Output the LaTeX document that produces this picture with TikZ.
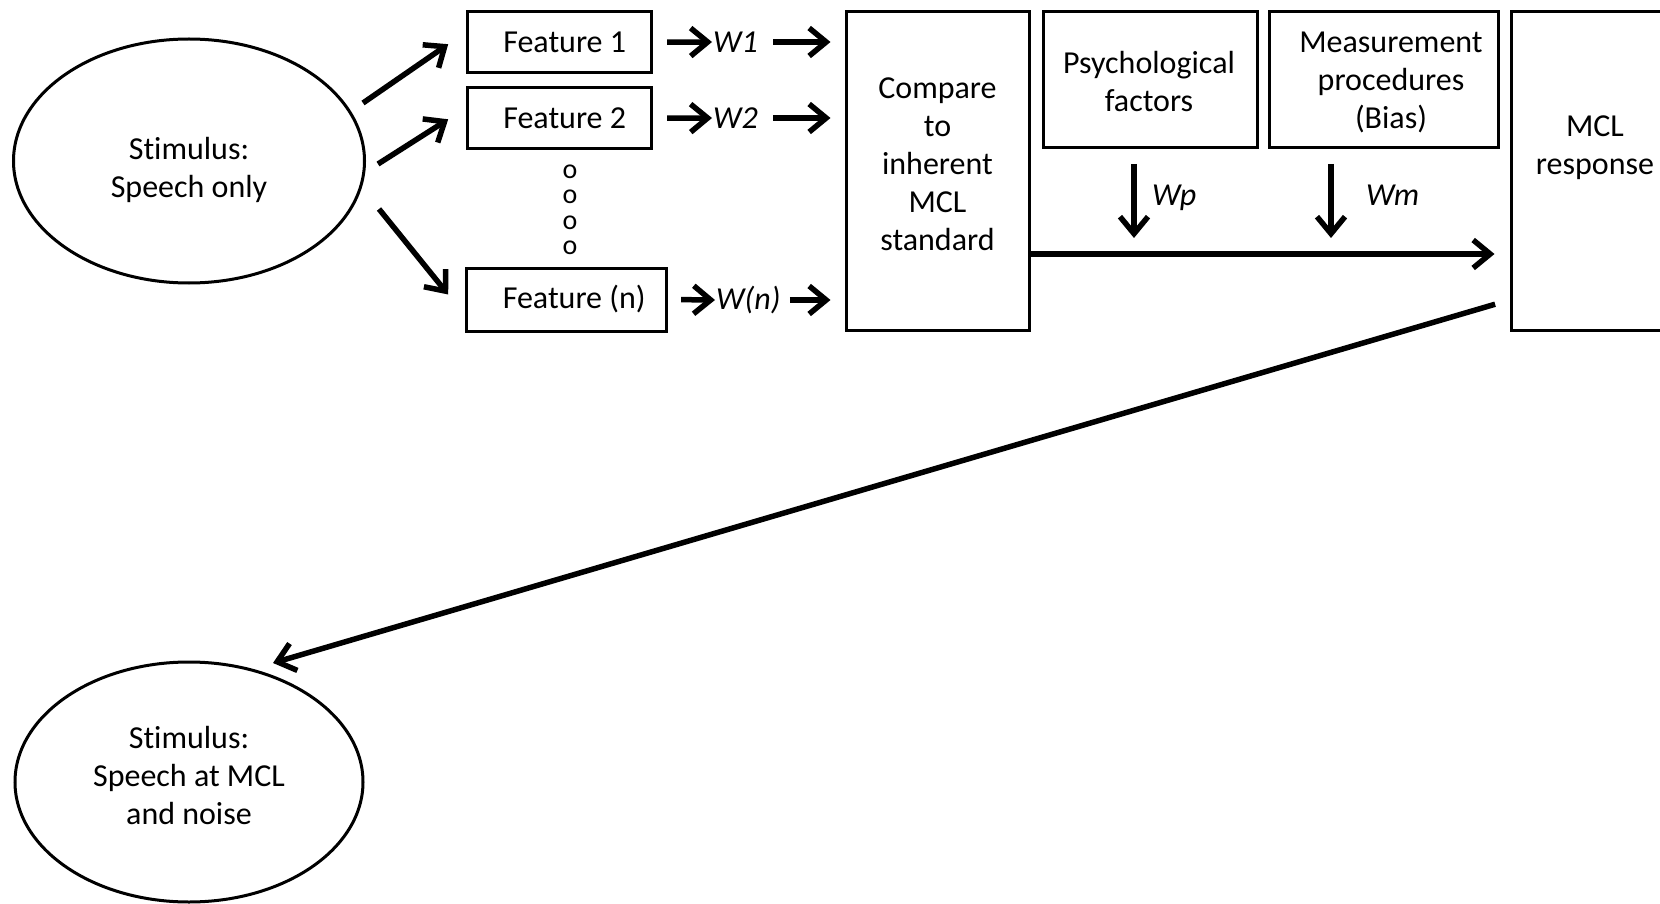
\documentclass[tikz,border=0pt]{standalone}
\usepackage{fontspec}
\setmainfont{Carlito}[Ligatures=CommonOff]
\usetikzlibrary{shapes.geometric,arrows.meta,calc}
\begin{document}
\begin{tikzpicture}[x=1pt,y=-1pt,
  every node/.style={font=\fontsize{32}{38}\selectfont, align=center},
  box/.style={draw, line width=3pt, inner sep=0pt},
  oval/.style={draw, ellipse, line width=3pt, inner sep=0pt},
  txt/.style={inner sep=0pt},
  arr/.style={line width=5.5pt, -{Straight Barb[length=17pt,width=28pt]}},
  wlab/.style={inner sep=1pt, anchor=west, font=\fontsize{32}{38}\selectfont\itshape}
]
\useasboundingbox (0,0) rectangle (1660,904);

% stimuli
\node[oval, minimum width=351pt, minimum height=244pt] (stim1) at (189,161) {};
\node[txt] (stim1txt) at (189,170) {Stimulus:\\Speech only};
\node[oval, minimum width=348pt, minimum height=240pt] (stim2) at (189,782) {};
\node[txt] (stim2txt) at (189,776) {Stimulus:\\Speech at MCL\\and noise};

% features
\node[box, minimum width=184pt, minimum height=61pt] (f1) at (559.7,42.2) {\hspace*{10pt}Feature 1};
\node[box, minimum width=184pt, minimum height=61pt] (f2) at (559.7,118.3) {\hspace*{10pt}Feature 2};
\node[box, minimum width=200pt, minimum height=63pt] (fn) at (566.7,299.5) {\hspace*{15pt}Feature (n)};
\node[txt, font=\fontsize{28}{25.5}\selectfont] (dots) at (570,210) {o\\o\\o\\o};

% weights
\node[wlab] (w1) at (712,42) {W1};
\node[wlab] (w2) at (712,118) {W2};
\node[wlab] (wn) at (715,300) {W(n)};

% processing stages
\node[box, minimum width=183pt, minimum height=318pt] (comp) at (937.5,171) {};
\node[txt] (comptxt) at (937.5,164) {Compare\\to\\inherent\\MCL\\standard};
\node[box, minimum width=214pt, minimum height=136pt] (psy) at (1150,80) {};
\node[txt] (psytxt) at (1149,82) {Psychological\\factors};
\node[box, minimum width=229pt, minimum height=136pt] (meas) at (1383.5,80) {};
\node[txt] (meastxt) at (1391,82) {Measurement\\procedures\\(Bias)};
\node[box, minimum width=165pt, minimum height=318pt] (resp) at (1593.5,171) {};
\node[txt] (resptxt) at (1595,148) {MCL\\response};

\node[wlab, anchor=base west] (wp) at (1151,206) {Wp};
\node[wlab, anchor=base west] (wm) at (1365,206) {Wm};

% helper coordinates
\coordinate (e1) at (363,103);
\coordinate (e2) at (378,164);
\coordinate (e3) at (379,209);
\coordinate (hy) at (0,254);
\coordinate (dy) at (0,300);
\coordinate (dtip) at (273,663);
\coordinate (wp0) at (1134,164);
\coordinate (wp1) at (1134,238);
\coordinate (wm0) at (1331,164);
\coordinate (wm1) at (1331,238);

% stimulus to features
\draw[arr] (e1) -- ($(f1.west)+(-18,2)$);
\draw[arr] (e2) -- ($(f2.west)+(-18,1)$);
\draw[arr] (e3) -- ($(fn.west)+(-17,-5)$);

% features to weights to comparison
\draw[arr, shorten <=14pt] (f1.east) -- (w1.west);
\draw[arr, shorten <=14pt, shorten >=14pt] (w1.east) -- (comp.west |- w1.east);
\draw[arr, shorten <=14pt] (f2.east) -- (w2.west);
\draw[arr, shorten <=14pt, shorten >=14pt] (w2.east) -- (comp.west |- w2.east);
\draw[arr, shorten <=13pt] (fn.east) -- (wn.west);
\draw[arr, shorten <=8pt, shorten >=14pt] (wn.east) -- (comp.west |- wn.east);

% influences and response
\draw[arr] (wp0) -- (wp1);
\draw[arr] (wm0) -- (wm1);
\draw[arr, shorten >=15pt] (comp.east |- hy) -- (resp.west |- hy);
\draw[arr, shorten <=15pt] (resp.west |- dy) -- (dtip);
\end{tikzpicture}
\end{document}
